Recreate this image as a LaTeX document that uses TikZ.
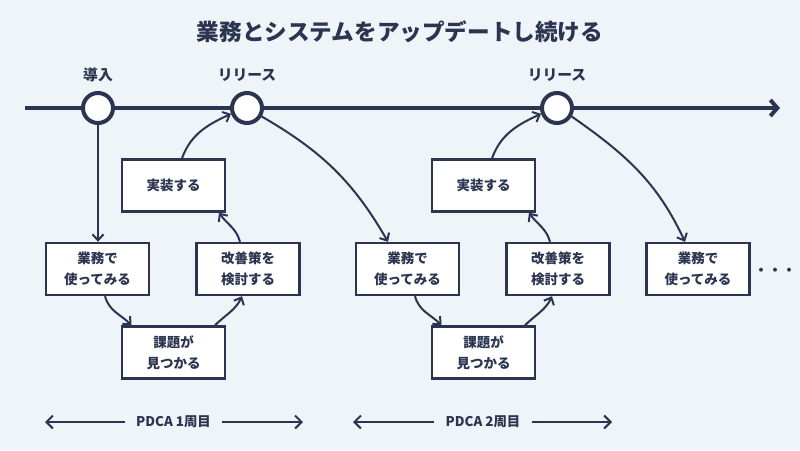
\documentclass[tikz,border=0pt]{standalone}
\usepackage{fontspec}
\setmainfont{Noto Sans CJK JP}
\usetikzlibrary{arrows.meta}
\definecolor{ink}{HTML}{2B3550}
\definecolor{bg}{HTML}{EFF4F9}
\begin{document}
\begin{tikzpicture}[x=1pt,y=-1pt,
  box/.style={draw=ink,line width=2.4pt,fill=white,minimum width=103pt,minimum height=52pt,inner sep=0pt,align=center,text=ink,font=\bfseries\fontsize{13.5}{21}\selectfont},
  ms/.style={circle,draw=ink,line width=4pt,fill=white,minimum size=30pt,inner sep=0pt},
  lbl/.style={text=ink,font=\bfseries\fontsize{14.8}{16}\selectfont},
  conn/.style={draw=ink,line width=2pt,-{Straight Barb[length=6pt,width=11pt,line width=2pt]}},
  pdca/.style={draw=ink,line width=2pt,-{Straight Barb[length=6.5pt,width=13pt,line width=2pt]}}]
\fill[bg] (0,0) rectangle (800,450);
\useasboundingbox (0,0) rectangle (800,450);
\node[text=ink,font=\bfseries\fontsize{22.6}{24}\selectfont] (title) at (400,32) {業務とシステムをアップデートし続ける};
% timeline
\coordinate (ts) at (25,108);
\coordinate (te) at (780,108);
\draw[ink,line width=4pt,-{Straight Barb[length=7pt,width=16pt,line width=4pt]}] (ts) -- (te);
\node[ms] (c0) at (98,108) {};
\node[ms] (c1) at (247,108) {};
\node[ms] (c2) at (557,108) {};
\node[lbl] (l0) at (98,75) {導入};
\node[lbl] (l1) at (247,75) {リリース};
\node[lbl] (l2) at (557,75) {リリース};
% cycle 1
\node[box] (impl1) at (173.5,185.5) {実装する};
\node[box] (use1) at (97.5,269) {業務で\\使ってみる};
\node[box] (imp1) at (248,269) {改善策を\\検討する};
\node[box] (prob1) at (173.5,352.5) {課題が\\見つかる};
% cycle 2
\node[box] (impl2) at (483.5,185.5) {実装する};
\node[box] (use2) at (407.5,269) {業務で\\使ってみる};
\node[box] (imp2) at (558,269) {改善策を\\検討する};
\node[box] (prob2) at (483.5,352.5) {課題が\\見つかる};
\node[box] (use3) at (698,269) {業務で\\使ってみる};
\node[text=ink,font=\bfseries\fontsize{14}{16}\selectfont] (dots) at (775,272) {・・・};
% connectors
\draw[conn] (c0.south) -- (c0.south |- use1.north);
\draw[conn] ([xshift=7.5pt]use1.south) to[out=-75,in=135] ([xshift=-42pt]prob1.north);
\draw[conn] ([xshift=41.5pt]prob1.north) to[out=45,in=-115] ([xshift=-6pt]imp1.south);
\draw[conn] ([xshift=-8pt]imp1.north) to[out=105,in=-55] ([xshift=45.5pt]impl1.south);
\draw[conn] ([xshift=8.5pt]impl1.north) to[out=70,in=205] (c1.200);
\draw[conn] (c1.-30) to[out=-30,in=120] ([xshift=-19.5pt]use2.north);
\draw[conn] ([xshift=7.5pt]use2.south) to[out=-75,in=135] ([xshift=-42pt]prob2.north);
\draw[conn] ([xshift=41.5pt]prob2.north) to[out=45,in=-115] ([xshift=-6pt]imp2.south);
\draw[conn] ([xshift=-8pt]imp2.north) to[out=105,in=-55] ([xshift=45.5pt]impl2.south);
\draw[conn] ([xshift=8.5pt]impl2.north) to[out=70,in=205] (c2.200);
\draw[conn] (c2.-30) to[out=-35,in=115] ([xshift=-13pt]use3.north);
% PDCA
\node[text=ink,font=\bfseries\fontsize{13.4}{15}\selectfont] (p1) at (173.5,422) {PDCA 1周目};
\node[text=ink,font=\bfseries\fontsize{13.4}{15}\selectfont] (p2) at (483,422) {PDCA 2周目};
\coordinate (p1l) at (45,422);
\coordinate (p1r) at (303,422);
\coordinate (p2l) at (353,422);
\coordinate (p2r) at (612,422);
\draw[pdca] ([xshift=-8pt]p1.west) -- (p1l);
\draw[pdca] ([xshift=8pt]p1.east) -- (p1r);
\draw[pdca] ([xshift=-8pt]p2.west) -- (p2l);
\draw[pdca] ([xshift=8pt]p2.east) -- (p2r);
\end{tikzpicture}
\end{document}
